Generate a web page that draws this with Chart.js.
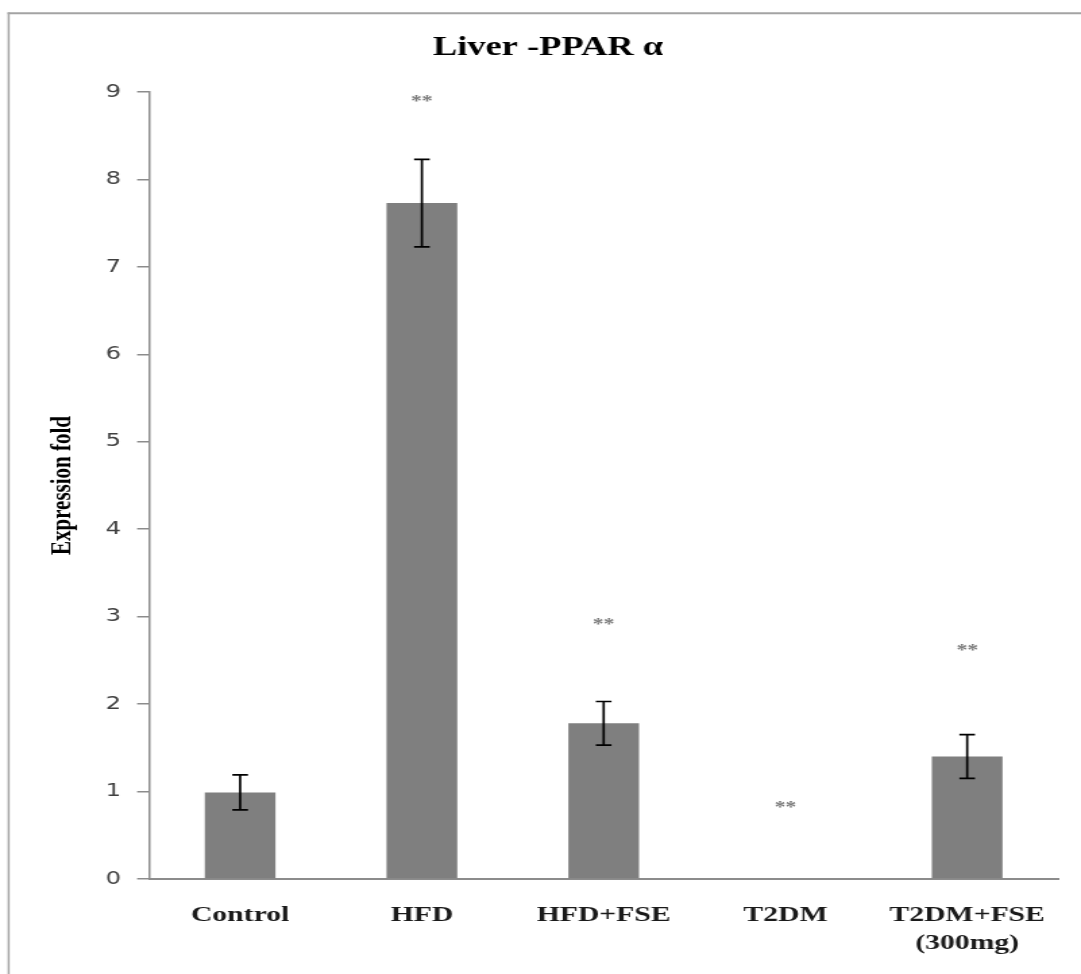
<!DOCTYPE html>
<html>
<head>
<meta charset="utf-8">
<script src="https://cdn.jsdelivr.net/npm/chart.js@4.4.1/dist/chart.umd.min.js"></script>
<style>
html,body{margin:0;padding:0;background:#fff;overflow:hidden;}
#wrap{position:absolute;left:0;top:0;width:801px;height:974px;transform:scaleX(1.34956);transform-origin:0 0;}
canvas{display:block;}
</style>
</head>
<body>
<div id="wrap"><canvas id="c" width="801" height="974" style="width:801px;height:974px"></canvas></div>
<script>
// ---- data ----
const categories = ['Control', 'HFD', 'HFD+FSE', 'T2DM', ['T2DM+FSE', '(300mg)']];
const expression = [0.99, 7.73, 1.78, 0, 1.40];
const errors = [0.20, 0.50, 0.25, 0, 0.25];
const sigLabels = ['', '**', '**', '**', '**'];
const sigLevels = [null, 8.93, 2.94, 0.85, 2.645];
const yTicks = [0, 1, 2, 3, 4, 5, 6, 7, 8, 9];

const framePlugin = {
  id: 'frame',
  beforeDraw(chart) {
    const ctx = chart.ctx;
    ctx.save();
    ctx.strokeStyle = '#a3a3a3';
    ctx.lineWidth = 1.5;
    ctx.beginPath(); ctx.moveTo(6.4, 12.5); ctx.lineTo(6.4, chart.height); ctx.stroke();
    ctx.lineWidth = 2;
    ctx.beginPath(); ctx.moveTo(5.6, 13.3); ctx.lineTo(chart.width, 13.3); ctx.stroke();
    ctx.restore();
  }
};

const errorBarPlugin = {
  id: 'errorBars',
  afterDatasetsDraw(chart) {
    const ctx = chart.ctx;
    const x = chart.scales.x, y = chart.scales.y;
    const meta = chart.getDatasetMeta(0);
    ctx.save();
    ctx.strokeStyle = '#000';
    ctx.lineWidth = 1.7;
    meta.data.forEach((bar, i) => {
      const sd = errors[i];
      if (!sd) return;
      const cx = bar.x;
      const yTop = y.getPixelForValue(expression[i] + sd);
      const yBot = y.getPixelForValue(expression[i] - sd);
      const cap = 5.8;
      ctx.beginPath();
      ctx.moveTo(cx, yTop); ctx.lineTo(cx, yBot);
      ctx.moveTo(cx - cap, yTop); ctx.lineTo(cx + cap, yTop);
      ctx.moveTo(cx - cap, yBot); ctx.lineTo(cx + cap, yBot);
      ctx.stroke();
    });
    ctx.fillStyle = '#7a7a7a';
    ctx.font = 'bold 16px "Liberation Serif"';
    ctx.textAlign = 'center';
    ctx.textBaseline = 'alphabetic';
    sigLevels.forEach((v, i) => {
      if (v == null) return;
      const m = ctx.measureText(sigLabels[i]);
      const yc = y.getPixelForValue(v);
      const base = yc + (m.actualBoundingBoxAscent - m.actualBoundingBoxDescent) / 2;
      ctx.fillText(sigLabels[i], x.getPixelForValue(i), base);
    });
    ctx.restore();
  }
};

new Chart(document.getElementById('c'), {
  type: 'bar',
  data: {
    labels: categories,
    datasets: [{
      data: expression,
      backgroundColor: '#7f7f7f',
      borderWidth: 0,
      barPercentage: 0.389,
      categoryPercentage: 1
    }]
  },
  options: {
    responsive: false,
    devicePixelRatio: 1,
    animation: false,
    layout: { padding: { left: 28, right: 17, top: 0, bottom: 0 } },
    plugins: {
      legend: { display: false },
      tooltip: { enabled: false },
      title: {
        display: true,
        text: 'Liver -PPAR α',
        color: '#000',
        font: { family: 'Liberation Serif', size: 27, weight: 'bold', lineHeight: 1.2 },
        padding: { top: 32, bottom: 27.6 }
      }
    },
    scales: {
      x: {
        grid: { display: false, drawTicks: false },
        border: { display: true, color: '#8c8c8c', width: 2 },
        ticks: {
          color: '#1a1a1a',
          font: { family: 'Liberation Serif', size: 22, weight: 'bold', lineHeight: 1.28 },
          padding: 22,
          maxRotation: 0,
          autoSkip: false
        },
        afterFit(s) { s.height = 95; }
      },
      y: {
        min: 0,
        max: 9,
        afterBuildTicks(s) { s.ticks = yTicks.map(v => ({ value: v })); },
        ticks: {
          color: '#404040',
          font: { family: 'DejaVu Sans', size: 18 },
          padding: 12
        },
        grid: { drawOnChartArea: false, drawTicks: true, tickLength: 9, color: '#8c8c8c', lineWidth: 1.5 },
        border: { display: true, color: '#8c8c8c', width: 1.5 },
        title: {
          display: true,
          text: 'Expression fold',
          color: '#000',
          font: { family: 'Liberation Serif', size: 21, weight: 'bold', lineHeight: 1.2 },
          padding: { top: 6.3, bottom: 0 }
        },
        afterFit(s) { s.width = 82.6; }
      }
    }
  },
  plugins: [framePlugin, errorBarPlugin]
});
</script>
</body>
</html>
